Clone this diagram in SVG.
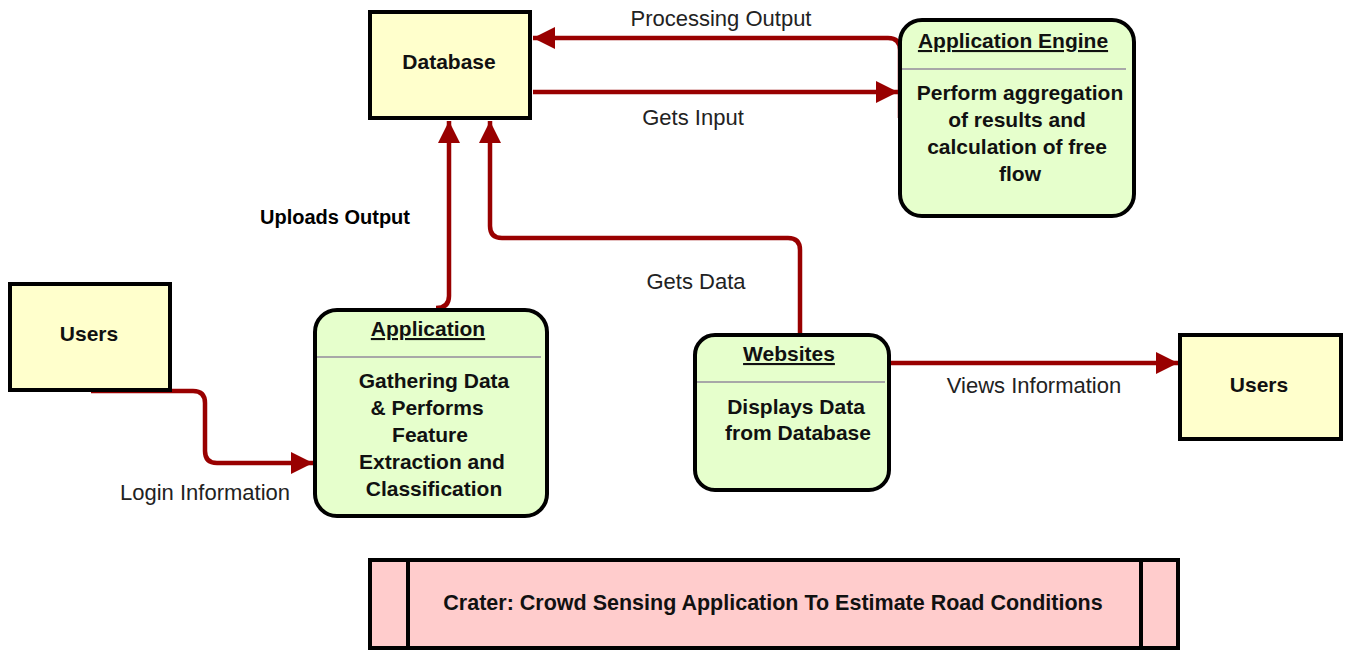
<svg xmlns="http://www.w3.org/2000/svg" width="1350" height="652" viewBox="0 0 1350 652">
  <style>
    .ent { fill: #FFFFCC; stroke: #000; stroke-width: 4; }
    .proc { fill: #E6FFCC; stroke: #000; stroke-width: 4; }
    .sep { stroke: #A8A8A8; stroke-width: 2; }
    .nt { font-family: "Liberation Sans", Arial, sans-serif; font-weight: bold; font-size: 21px; fill: #111; text-anchor: middle; }
    .ttl { text-decoration: underline; }
    .lbl { font-family: "Liberation Sans", Arial, sans-serif; font-size: 22px; fill: #222; text-anchor: middle; }
    .flow { fill: none; stroke: #990000; stroke-width: 4.5; marker-end: url(#arrow); }
  </style>
  <defs>
    <marker id="arrow" markerUnits="userSpaceOnUse" markerWidth="24" markerHeight="24" refX="22" refY="11" orient="auto">
      <path d="M0,0 L22,11 L0,22 z" fill="#990000"/>
    </marker>
  </defs>
  <rect width="1350" height="652" fill="#fff"/>

  <g id="connectors">
    <path class="flow" d="M 900 118 L 900 50 Q 900 38 888 38 L 533 38"/>
    <path class="flow" d="M 533 92 L 898 92"/>
    <path class="flow" d="M 436 308 Q 449 308 449 296 L 449 121"/>
    <path class="flow" d="M 800 333 L 800 250 Q 800 238 788 238 L 502 238 Q 490 238 490 226 L 490 121"/>
    <path class="flow" d="M 91 391 L 193 391 Q 205 391 205 403 L 205 451 Q 205 463 217 463 L 313 463"/>
    <path class="flow" d="M 891 363 L 1178 363"/>
    <text class="lbl" x="721" y="26">Processing Output</text>
    <text class="lbl" x="693" y="125">Gets Input</text>
    <text class="nt" x="335" y="224" style="fill:#000;font-size:20px">Uploads Output</text>
    <text class="lbl" x="696" y="289">Gets Data</text>
    <text class="lbl" x="205" y="500">Login Information</text>
    <text class="lbl" x="1034" y="393">Views Information</text>
  </g>

  <g id="database">
    <rect class="ent" x="370" y="12" width="160" height="106"/>
    <text class="nt" x="449" y="69">Database</text>
  </g>

  <g id="application-engine">
    <rect class="proc" x="900" y="20" width="234" height="196" rx="22"/>
    <line class="sep" x1="902" y1="69" x2="1126" y2="69"/>
    <text class="nt ttl" x="1013" y="48">Application Engine</text>
    <text class="nt" x="1020" y="100">Perform aggregation</text>
    <text class="nt" x="1017" y="127">of results and</text>
    <text class="nt" x="1017" y="154">calculation of free</text>
    <text class="nt" x="1020" y="181">flow</text>
  </g>

  <g id="users-left">
    <rect class="ent" x="10" y="284" width="160" height="106"/>
    <text class="nt" x="89" y="341">Users</text>
  </g>

  <g id="application">
    <rect class="proc" x="315" y="310" width="232" height="206" rx="22"/>
    <line class="sep" x1="317" y1="357" x2="541" y2="357"/>
    <text class="nt ttl" x="428" y="336">Application</text>
    <text class="nt" x="434" y="388">Gathering Data</text>
    <text class="nt" x="427" y="415">&amp; Performs</text>
    <text class="nt" x="430" y="442">Feature</text>
    <text class="nt" x="432" y="469">Extraction and</text>
    <text class="nt" x="434" y="496">Classification</text>
  </g>

  <g id="websites">
    <rect class="proc" x="695" y="335" width="194" height="155" rx="20"/>
    <line class="sep" x1="697" y1="382" x2="885" y2="382"/>
    <text class="nt ttl" x="789" y="361">Websites</text>
    <text class="nt" x="796" y="414">Displays Data</text>
    <text class="nt" x="798" y="440">from Database</text>
  </g>

  <g id="users-right">
    <rect class="ent" x="1180" y="335" width="161" height="104"/>
    <text class="nt" x="1259" y="392">Users</text>
  </g>

  <g id="title-bar">
    <rect x="370" y="560" width="808" height="88" fill="#FFCCCC" stroke="#000" stroke-width="4"/>
    <line x1="408" y1="560" x2="408" y2="648" stroke="#000" stroke-width="4"/>
    <line x1="1141" y1="560" x2="1141" y2="648" stroke="#000" stroke-width="4"/>
    <text class="nt" x="773" y="610" style="font-size:21.5px">Crater: Crowd Sensing Application To Estimate Road Conditions</text>
  </g>
</svg>
